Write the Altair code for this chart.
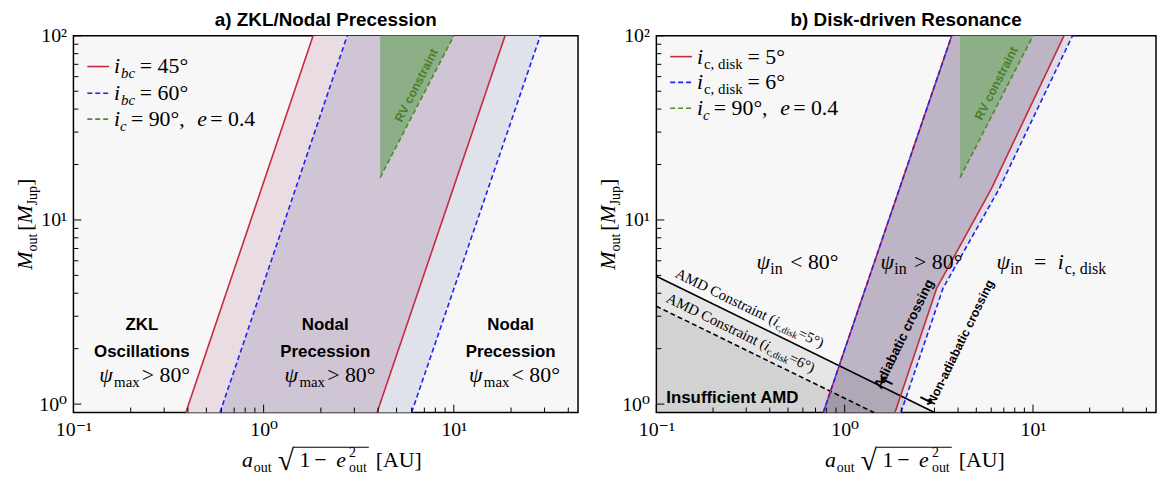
import altair as alt
import pandas as pd

SERIF = "Liberation Serif, DejaVu Serif, serif"
SANS = "Liberation Sans, Arial, sans-serif"

X_DOMAIN = [0.1, 45]
Y_DOMAIN = [0.9, 100]
W_A, W_B, H = 509, 504, 380

# ---------------- data ----------------
# panel a: boundary lines (a_out*sqrt(1-e^2) at M_out = 0.9 and 100)
a_mass = [0.9, 100]
a_red_lo = [0.39, 1.82]
a_blue_lo = [0.59, 2.75]
a_red_hi = [3.95, 18.6]
a_blue_hi = [6.0, 28.5]

# RV constraint triangle
rv_mass = [17, 100]
rv_left = [4.1, 4.1]
rv_right = [4.1, 10.0]

# panel b: resonance boundaries
b_mass = [0.9, 4.26, 14.7, 100]
b_lo = [0.77, 1.29, 1.95, 3.70]
b_red_hi = [1.85, 3.08, 6.0, 14.6]
b_blue_hi = [1.99, 3.33, 6.6, 16.2]

# AMD constraints
amd5_a = [0.1, 3.0]
amd5_m = [4.95, 0.9]
amd6_a = [0.1, 1.43]
amd6_m = [3.4, 0.9]

x_major = [0.1, 1, 10]
x_minor = [0.2, 0.3, 0.4, 0.5, 0.6, 0.7, 0.8, 0.9, 2, 3, 4, 5, 6, 7, 8, 9, 20, 30, 40]
y_major = [1, 10, 100]
y_minor = [2, 3, 4, 5, 6, 7, 8, 9, 20, 30, 40, 50, 60, 70, 80, 90]

# ---------------- style ----------------
BG = "#f7f7f8"
RED = "#c62a40"
BLUE = "#2222f2"
GREEN_L = "#4d8a2a"
GREEN_F = "#8daf87"
GREEN_T = "#4a7f29"

XS = alt.Scale(type="log", domain=X_DOMAIN, nice=False)
YS = alt.Scale(type="log", domain=Y_DOMAIN, nice=False)
XAX = alt.Axis(values=x_major, ticks=False, domain=False, grid=False,
               labelFont=SERIF, labelFontSize=20, labelColor="black",
               labelPadding=7, labelFlush=False,
               labelExpr="datum.value < 0.5 ? '10⁻¹' : datum.value < 5 ? '10⁰' : '10¹'")
YAX = alt.Axis(values=y_major, ticks=False, domain=False, grid=False,
               labelFont=SERIF, labelFontSize=20, labelColor="black",
               labelPadding=7, labelFlush=False,
               labelExpr="datum.value < 5 ? '10⁰' : datum.value < 50 ? '10¹' : '10²'")


def X(f):
    return alt.X(f, scale=XS, axis=XAX, title=None)


def Y(f):
    return alt.Y(f, scale=YS, axis=YAX, title=None)


DUMMY = pd.DataFrame({"k": [0]})


def band(lo, hi, mass, color):
    df = pd.DataFrame({"m": mass, "lo": lo, "hi": hi})
    return alt.Chart(df).mark_area(orient="horizontal", color=color, opacity=1).encode(
        y=Y("m:Q"), x=X("lo:Q"), x2=alt.X2("hi:Q"))


def line(xs, ys, color, dash=None, width=1.6):
    df = pd.DataFrame({"a": xs, "m": ys, "i": list(range(len(xs)))})
    kw = dict(color=color, strokeWidth=width)
    if dash:
        kw["strokeDash"] = dash
    return alt.Chart(df).mark_line(**kw).encode(x=X("a:Q"), y=Y("m:Q"), order="i:Q")


def under(xs, ys, opacity):
    df = pd.DataFrame({"a": xs, "m": ys, "base": [Y_DOMAIN[0]] * len(xs)})
    return alt.Chart(df).mark_area(color="black", opacity=opacity).encode(
        x=X("a:Q"), y=Y("m:Q"), y2=alt.Y2("base:Q"))


def ticks():
    out = []
    for vals, L in ((x_major, 8), (x_minor, 5)):
        df = pd.DataFrame({"v": vals})
        out.append(alt.Chart(df).mark_rule(color="black", strokeWidth=1).encode(
            x=X("v:Q"), y=alt.value(H), y2=alt.value(H - L)))
    for vals, L in ((y_major, 8), (y_minor, 5)):
        df = pd.DataFrame({"v": vals})
        out.append(alt.Chart(df).mark_rule(color="black", strokeWidth=1).encode(
            y=Y("v:Q"), x=alt.value(0), x2=alt.value(L)))
    return out


def T(text, x, y, size=22, font=SERIF, style=None, weight=None, angle=0,
      align="left", baseline="alphabetic", color="black"):
    kw = dict(text=text, font=font, fontSize=size, align=align, baseline=baseline,
              color=color, angle=angle)
    if style:
        kw["fontStyle"] = style
    if weight:
        kw["fontWeight"] = weight
    return alt.Chart(DUMMY).mark_text(**kw).encode(x=alt.value(x), y=alt.value(y))


def seg(x1, x2, y, color, dash=None, width=1.6):
    kw = dict(color=color, strokeWidth=width)
    if dash:
        kw["strokeDash"] = dash
    return alt.Chart(DUMMY).mark_rule(**kw).encode(
        x=alt.value(x1), x2=alt.value(x2), y=alt.value(y))


def axis_titles():
    p = []
    # y title (rotated)
    p += [T("M", -42, 236, style="italic", angle=270),
          T("out", -37, 217.5, size=14, angle=270),
          T("[", -42, 196.6, angle=270),
          T("M", -42, 189.3, style="italic", angle=270),
          T("Jup", -37, 171, size=14, angle=270),
          T("]", -42, 151.6, angle=270)]
    # x title
    sx, by = 170, 435
    p += [T("a", sx, by, style="italic"),
          T("out", sx + 12, by + 5, size=14),
          T("√", sx + 36, by + 3, size=30),
          T("1", sx + 58, by),
          T("−", sx + 73, by),
          T("e", sx + 95, by, style="italic"),
          T("2", sx + 108, by - 10, size=14),
          T("out", sx + 108, by + 5, size=14),
          T("[AU]", sx + 135, by)]
    p.append(seg(sx + 52, sx + 128, by - 20, "black", width=1.2))
    return p


def legend_rows(rows, texts):
    p = []
    styles = [(RED, None), (BLUE, [5, 3]), (GREEN_L, [5, 3])]
    for r, (c, d) in zip(rows, styles):
        p.append(seg(14, 36, r, c, d))
    p += texts
    return p


# ---------------- panel a ----------------
ra = [31, 58, 84]
leg_a = legend_rows(ra, [
    T("i", 41, ra[0] + 7, style="italic"), T("bc", 48, ra[0] + 12, size=15, style="italic"),
    T("= 45°", 67, ra[0] + 7),
    T("i", 41, ra[1] + 7, style="italic"), T("bc", 48, ra[1] + 12, size=15, style="italic"),
    T("= 60°", 67, ra[1] + 7),
    T("i", 41, ra[2] + 7, style="italic"), T("c", 47, ra[2] + 12, size=15, style="italic"),
    T("= 90°,", 58, ra[2] + 7), T("e", 125, ra[2] + 7, style="italic"),
    T("= 0.4", 138, ra[2] + 7),
])

BOLD = dict(font=SANS, weight="bold")
ann_a = [
    T("a) ZKL/Nodal Precession", W_A / 2, -16, size=19, align="center",
      baseline="middle", **BOLD),
    T("ZKL", 69, 297, size=17, align="center", **BOLD),
    T("Oscillations", 69, 324, size=17, align="center", **BOLD),
    T("ψ", 26, 349, style="italic"), T("max", 41, 354, size=15), T("> 80°", 69, 349),
    T("Nodal", 254, 297, size=17, align="center", **BOLD),
    T("Precession", 254, 324, size=17, align="center", **BOLD),
    T("ψ", 213, 349, style="italic"), T("max", 228, 354, size=15), T("> 80°", 256, 349),
    T("Nodal", 441, 297, size=17, align="center", **BOLD),
    T("Precession", 441, 324, size=17, align="center", **BOLD),
    T("ψ", 399, 349, style="italic"), T("max", 414, 354, size=15), T("< 80°", 442, 349),
    T("RV constraint", 346, 50, size=12.5, angle=297, align="center",
      baseline="middle", color=GREEN_T, **BOLD),
]

panel_a = alt.layer(
    band(a_red_lo, a_blue_lo, a_mass, "#e9dde3"),
    band(a_blue_lo, a_red_hi, a_mass, "#d0c5d4"),
    band(a_red_hi, a_blue_hi, a_mass, "#dfe2eb"),
    band(rv_left, rv_right, rv_mass, GREEN_F),
    line([rv_left[0], rv_right[1]], rv_mass, GREEN_L, [5, 3]),
    line(a_red_lo, a_mass, RED),
    line(a_blue_lo, a_mass, BLUE, [5, 3]),
    line(a_red_hi, a_mass, RED),
    line(a_blue_hi, a_mass, BLUE, [5, 3]),
    *ticks(),
    *leg_a,
    *ann_a,
    *axis_titles(),
).properties(width=W_A, height=H)

# ---------------- panel b ----------------
rb = [21, 47, 73]
leg_b = legend_rows(rb, [
    T("i", 41, rb[0] + 7, style="italic"), T("c, disk", 48, rb[0] + 12, size=15),
    T("= 5°", 92, rb[0] + 7),
    T("i", 41, rb[1] + 7, style="italic"), T("c, disk", 48, rb[1] + 12, size=15),
    T("= 6°", 92, rb[1] + 7),
    T("i", 41, rb[2] + 7, style="italic"), T("c", 47, rb[2] + 12, size=15, style="italic"),
    T("= 90°,", 58, rb[2] + 7), T("e", 125, rb[2] + 7, style="italic"),
    T("= 0.4", 138, rb[2] + 7),
])

ann_b = [
    T("b) Disk-driven Resonance", W_B / 2, -16, size=19, align="center",
      baseline="middle", **BOLD),
    T("ψ", 101, 235, style="italic"), T("in", 115, 240, size=16), T("< 80°", 135, 235),
    T("ψ", 226, 235, style="italic"), T("in", 240, 240, size=16), T("> 80°", 260, 235),
    T("ψ", 343, 235, style="italic"), T("in", 357, 240, size=16), T("=", 381, 235),
    T("i", 405, 235, style="italic"), T("c, disk", 412, 240, size=16),
    T("Insufficient AMD", 10, 370, size=17, **BOLD),
    T("AMD Constraint (", 18, 243, size=15, angle=26),
    T("i", 116.9, 291.2, size=15, angle=26, style="italic"),
    T("c,disk", 119.3, 295.7, size=10, angle=26),
    T("=5°)", 141.8, 303.3, size=15, angle=26),
    T("AMD Constraint (", 9, 268, size=15, angle=26),
    T("i", 107.9, 316.2, size=15, angle=26, style="italic"),
    T("c,disk", 110.3, 320.7, size=10, angle=26),
    T("=6°)", 132.8, 328.3, size=15, angle=26),
    T("Adiabatic crossing", 250, 301, size=13.5, angle=296, align="center",
      baseline="middle", **BOLD),
    T("Non-adiabatic crossing", 307, 309, size=12.5, angle=296, align="center",
      baseline="middle", **BOLD),
    T("←", 232, 349, size=18, font="DejaVu Sans", weight="bold", angle=26,
      align="center", baseline="middle"),
    T("→", 272, 368, size=18, font="DejaVu Sans", weight="bold", angle=26,
      align="center", baseline="middle"),
    T("RV constraint", 343, 48, size=12.5, angle=297, align="center",
      baseline="middle", color=GREEN_T, **BOLD),
]

panel_b = alt.layer(
    band(b_lo, b_red_hi, b_mass, "#bdb4c5"),
    band(b_red_hi, b_blue_hi, b_mass, "#dcdde6"),
    under(amd5_a, amd5_m, 0.065),
    under(amd6_a, amd6_m, 0.085),
    band(rv_left, rv_right, rv_mass, GREEN_F),
    line([rv_left[0], rv_right[1]], rv_mass, GREEN_L, [5, 3]),
    line(amd5_a, amd5_m, "black"),
    line(amd6_a, amd6_m, "black", [5, 3]),
    line(b_lo, b_mass, RED),
    line(b_lo, b_mass, BLUE, [5, 3]),
    line(b_red_hi, b_mass, RED),
    line(b_blue_hi, b_mass, BLUE, [5, 3]),
    *ticks(),
    *leg_b,
    *ann_b,
    *axis_titles(),
).properties(width=W_B, height=H)

chart = alt.hconcat(panel_a, panel_b, spacing=79, bounds="flush").configure_view(
    fill=BG, stroke="black", strokeWidth=1.5
).properties(padding={"left": 5, "top": 0, "right": 0, "bottom": 0})

chart.save("out.html", embed_options={"renderer": "svg", "actions": False})
